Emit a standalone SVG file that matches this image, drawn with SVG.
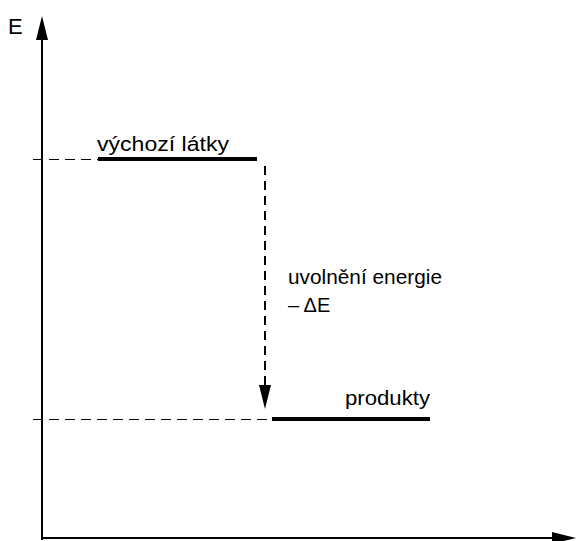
<svg xmlns="http://www.w3.org/2000/svg" width="576" height="541" viewBox="0 0 576 541">
<defs>
<style>
text{font-family:"Liberation Sans",Arial,sans-serif;font-size:20px;fill:#000}
.axis{stroke:#000;stroke-width:2;fill:none}
.level{stroke:#000;stroke-width:4;fill:none}
.guide{stroke:#000;stroke-width:1;stroke-dasharray:10,6;fill:none}
.drop{stroke:#000;stroke-width:2;stroke-dasharray:9,6;fill:none}
</style>
</defs>
<rect width="576" height="541" fill="#fff"/>
<g id="connectors">
<line class="axis" x1="42" y1="540" x2="42" y2="38"/>
<polygon points="42,16 36,40 48,40" fill="#000"/>
<line class="axis" x1="41" y1="538" x2="556" y2="538"/>
<polygon points="576,538 552,532 552,544" fill="#000"/>
<line class="guide" x1="33" y1="159.5" x2="98" y2="159.5"/>
<line class="guide" x1="33" y1="419.5" x2="272" y2="419.5"/>
<line class="drop" x1="265" y1="166" x2="265" y2="388"/>
<polygon points="265,409 259,385 271,385" fill="#000"/>
</g>
<g id="axis-label"><text x="8" y="34" style="font-size:22px">E</text></g>
<g id="reactants">
<line class="level" x1="98" y1="159" x2="257" y2="159"/>
<text x="97" y="151" textLength="132" lengthAdjust="spacingAndGlyphs">výchozí látky</text>
</g>
<g id="energy-label">
<text x="288" y="284" textLength="154" lengthAdjust="spacingAndGlyphs">uvolnění energie</text>
<text x="288" y="312">– ΔE</text>
</g>
<g id="products">
<line class="level" x1="272" y1="419" x2="430" y2="419"/>
<text x="345" y="405" textLength="85" lengthAdjust="spacingAndGlyphs">produkty</text>
</g>
</svg>
